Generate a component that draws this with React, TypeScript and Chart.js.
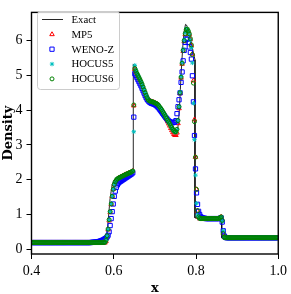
import React, { useEffect, useRef } from 'react';
import { Chart, registerables } from 'chart.js';

Chart.register(...registerables);

// uniform grid of cell centres (dx = 1/400), shown from x = 0.40125
const GRID_START = 0.40125;
const GRID_DX = 0.0025;

const xTicks = [0.4, 0.6, 0.8, 1.0];
const yTicks = [0, 1, 2, 3, 4, 5, 6];

const seriesNames = ['Exact', 'MP5', 'WENO-Z', 'HOCUS5', 'HOCUS6'];

const exactX = [0.4, 0.575, 0.58, 0.583, 0.587, 0.591, 0.596, 0.6, 0.606, 0.62, 0.635, 0.6475, 0.6475, 0.655, 0.667, 0.678, 0.688, 0.7, 0.71, 0.72, 0.73, 0.74, 0.748, 0.752, 0.756, 0.759, 0.762, 0.765, 0.768, 0.771, 0.7745, 0.777, 0.781, 0.786, 0.791, 0.7975, 0.7975, 0.805, 0.8625, 0.8625, 1.0];
const exactY = [0.19, 0.19, 0.21, 0.35, 0.9, 1.45, 1.85, 1.98, 2.05, 2.12, 2.18, 2.25, 5.32, 5.05, 4.75, 4.42, 4.3, 4.2, 4.1, 3.95, 3.75, 3.55, 3.4, 3.36, 3.5, 3.9, 4.6, 5.3, 5.85, 6.25, 6.47, 6.45, 6.32, 6.1, 5.8, 5.45, 0.9, 0.88, 0.87, 0.33, 0.33];

const mp5 = [
  0.19, 0.19, 0.19, 0.19, 0.19, 0.19, 0.19, 0.19, 0.19, 0.19, 0.19, 0.19, 0.19, 0.19, 0.19, 0.19, 0.19, 0.19, 0.19, 0.19,
  0.19, 0.19, 0.19, 0.19, 0.19, 0.19, 0.19, 0.19, 0.19, 0.19, 0.19, 0.19, 0.19, 0.19, 0.19, 0.19, 0.19, 0.19, 0.19, 0.19,
  0.19, 0.19, 0.19, 0.19, 0.19, 0.19, 0.19, 0.19, 0.19, 0.19, 0.19, 0.19, 0.19, 0.19, 0.19, 0.19, 0.19, 0.19, 0.19, 0.19,
  0.19, 0.19, 0.19, 0.19, 0.19, 0.19, 0.19, 0.19, 0.19, 0.19, 0.19, 0.185, 0.23, 0.36, 0.56, 0.82, 1.06, 1.29, 1.52, 1.73,
  1.88, 1.96, 2.0, 2.02, 2.04, 2.06, 2.07, 2.09, 2.1, 2.12, 2.13, 2.15, 2.16, 2.17, 2.19, 2.2, 2.21, 2.23, 2.25, 4.13,
  5.18, 5.12, 5.06, 5.0, 4.94, 4.88, 4.81, 4.74, 4.66, 4.58, 4.5, 4.42, 4.35, 4.3, 4.27, 4.26, 4.25, 4.24, 4.23, 4.22,
  4.2, 4.19, 4.17, 4.14, 4.1, 4.06, 4.01, 3.96, 3.91, 3.85, 3.79, 3.73, 3.67, 3.61, 3.55, 3.48, 3.42, 3.36, 3.31, 3.28,
  3.28, 3.35, 3.62, 4.05, 4.48, 4.93, 5.33, 5.7, 5.98, 6.18, 6.3, 6.3, 6.26, 6.18, 6.04, 5.86, 5.62, 4.85, 3.73, 2.65,
  1.72, 1.1, 0.92, 0.88, 0.88, 0.88, 0.88, 0.88, 0.88, 0.88, 0.88, 0.88, 0.88, 0.88, 0.88, 0.88, 0.88, 0.88, 0.88, 0.88,
  0.88, 0.88, 0.89, 0.91, 0.93, 0.83, 0.45, 0.35, 0.33, 0.33, 0.33, 0.33, 0.33, 0.33, 0.33, 0.33, 0.33, 0.33, 0.33, 0.33,
  0.33, 0.33, 0.33, 0.33, 0.33, 0.33, 0.33, 0.33, 0.33, 0.33, 0.33, 0.33, 0.33, 0.33, 0.33, 0.33, 0.33, 0.33, 0.33, 0.33,
  0.33, 0.33, 0.33, 0.33, 0.33, 0.33, 0.33, 0.33, 0.33, 0.33, 0.33, 0.33, 0.33, 0.33, 0.33, 0.33, 0.33, 0.33, 0.33, 0.33,
];

const wenoZ = [
  0.19, 0.19, 0.19, 0.19, 0.19, 0.19, 0.19, 0.19, 0.19, 0.19, 0.19, 0.19, 0.19, 0.19, 0.19, 0.19, 0.19, 0.19, 0.19, 0.19,
  0.19, 0.19, 0.19, 0.19, 0.19, 0.19, 0.19, 0.19, 0.19, 0.19, 0.19, 0.19, 0.19, 0.19, 0.19, 0.19, 0.19, 0.19, 0.19, 0.19,
  0.19, 0.19, 0.19, 0.19, 0.19, 0.19, 0.19, 0.19, 0.19, 0.19, 0.19, 0.19, 0.19, 0.19, 0.19, 0.19, 0.19, 0.19, 0.195, 0.2,
  0.2, 0.2, 0.205, 0.21, 0.215, 0.22, 0.23, 0.24, 0.25, 0.265, 0.28, 0.3, 0.32, 0.35, 0.4, 0.5, 0.68, 0.88, 1.08, 1.3,
  1.52, 1.67, 1.78, 1.85, 1.9, 1.93, 1.95, 1.97, 1.99, 2.01, 2.03, 2.05, 2.07, 2.09, 2.11, 2.13, 2.15, 2.17, 2.2, 3.8,
  5.05, 5.0, 4.94, 4.88, 4.82, 4.76, 4.7, 4.63, 4.56, 4.49, 4.42, 4.36, 4.31, 4.27, 4.24, 4.22, 4.2, 4.19, 4.18, 4.17,
  4.15, 4.13, 4.1, 4.07, 4.03, 3.99, 3.95, 3.91, 3.87, 3.83, 3.79, 3.76, 3.72, 3.69, 3.67, 3.65, 3.64, 3.64, 3.65, 3.66,
  3.7, 3.9, 4.1, 4.3, 4.5, 4.8, 5.1, 5.42, 5.72, 5.95, 6.05, 6.04, 5.95, 5.82, 5.66, 5.47, 4.99, 4.24, 3.27, 2.31,
  1.62, 1.29, 1.09, 1.0, 0.94, 0.91, 0.9, 0.89, 0.89, 0.88, 0.88, 0.88, 0.88, 0.88, 0.88, 0.88, 0.88, 0.88, 0.88, 0.88,
  0.88, 0.88, 0.88, 0.89, 0.9, 0.78, 0.53, 0.38, 0.34, 0.33, 0.33, 0.33, 0.33, 0.33, 0.33, 0.33, 0.33, 0.33, 0.33, 0.33,
  0.33, 0.33, 0.33, 0.33, 0.33, 0.33, 0.33, 0.33, 0.33, 0.33, 0.33, 0.33, 0.33, 0.33, 0.33, 0.33, 0.33, 0.33, 0.33, 0.33,
  0.33, 0.33, 0.33, 0.33, 0.33, 0.33, 0.33, 0.33, 0.33, 0.33, 0.33, 0.33, 0.33, 0.33, 0.33, 0.33, 0.33, 0.33, 0.33, 0.33,
];

const hocus5 = [
  0.19, 0.19, 0.19, 0.19, 0.19, 0.19, 0.19, 0.19, 0.19, 0.19, 0.19, 0.19, 0.19, 0.19, 0.19, 0.19, 0.19, 0.19, 0.19, 0.19,
  0.19, 0.19, 0.19, 0.19, 0.19, 0.19, 0.19, 0.19, 0.19, 0.19, 0.19, 0.19, 0.19, 0.19, 0.19, 0.19, 0.19, 0.19, 0.19, 0.19,
  0.19, 0.19, 0.19, 0.19, 0.19, 0.19, 0.19, 0.19, 0.19, 0.19, 0.19, 0.19, 0.19, 0.19, 0.19, 0.19, 0.19, 0.19, 0.19, 0.19,
  0.19, 0.19, 0.19, 0.19, 0.19, 0.19, 0.19, 0.19, 0.19, 0.19, 0.19, 0.2, 0.25, 0.38, 0.57, 0.84, 1.08, 1.31, 1.53, 1.73,
  1.87, 1.95, 2.0, 2.02, 2.04, 2.06, 2.07, 2.09, 2.1, 2.12, 2.13, 2.15, 2.16, 2.17, 2.19, 2.2, 2.21, 2.23, 2.25, 3.38,
  5.29, 5.16, 5.08, 5.01, 4.95, 4.89, 4.82, 4.75, 4.67, 4.59, 4.51, 4.43, 4.36, 4.3, 4.27, 4.26, 4.25, 4.24, 4.23, 4.22,
  4.2, 4.19, 4.17, 4.14, 4.1, 4.06, 4.02, 3.97, 3.92, 3.87, 3.81, 3.76, 3.71, 3.66, 3.6, 3.54, 3.48, 3.43, 3.39, 3.36,
  3.37, 3.44, 3.7, 4.1, 4.52, 4.97, 5.38, 5.75, 6.03, 6.23, 6.34, 6.33, 6.27, 6.17, 6.02, 5.8, 5.36, 4.2, 3.15, 2.13,
  1.32, 0.98, 0.9, 0.88, 0.88, 0.88, 0.88, 0.88, 0.88, 0.88, 0.88, 0.88, 0.88, 0.88, 0.88, 0.88, 0.88, 0.88, 0.88, 0.88,
  0.88, 0.88, 0.89, 0.9, 0.92, 0.8, 0.53, 0.35, 0.33, 0.33, 0.33, 0.33, 0.33, 0.33, 0.33, 0.33, 0.33, 0.33, 0.33, 0.33,
  0.33, 0.33, 0.33, 0.33, 0.33, 0.33, 0.33, 0.33, 0.33, 0.33, 0.33, 0.33, 0.33, 0.33, 0.33, 0.33, 0.33, 0.33, 0.33, 0.33,
  0.33, 0.33, 0.33, 0.33, 0.33, 0.33, 0.33, 0.33, 0.33, 0.33, 0.33, 0.33, 0.33, 0.33, 0.33, 0.33, 0.33, 0.33, 0.33, 0.33,
];

const hocus6 = [
  0.19, 0.19, 0.19, 0.19, 0.19, 0.19, 0.19, 0.19, 0.19, 0.19, 0.19, 0.19, 0.19, 0.19, 0.19, 0.19, 0.19, 0.19, 0.19, 0.19,
  0.19, 0.19, 0.19, 0.19, 0.19, 0.19, 0.19, 0.19, 0.19, 0.19, 0.19, 0.19, 0.19, 0.19, 0.19, 0.19, 0.19, 0.19, 0.19, 0.19,
  0.19, 0.19, 0.19, 0.19, 0.19, 0.19, 0.19, 0.19, 0.19, 0.19, 0.19, 0.19, 0.19, 0.19, 0.19, 0.19, 0.19, 0.19, 0.19, 0.19,
  0.19, 0.19, 0.19, 0.19, 0.19, 0.19, 0.19, 0.19, 0.19, 0.19, 0.19, 0.2, 0.26, 0.39, 0.58, 0.85, 1.08, 1.3, 1.52, 1.72,
  1.86, 1.94, 1.99, 2.02, 2.04, 2.06, 2.07, 2.09, 2.1, 2.12, 2.13, 2.15, 2.16, 2.17, 2.19, 2.2, 2.21, 2.23, 2.25, 4.15,
  5.2, 5.13, 5.06, 5.0, 4.94, 4.88, 4.82, 4.75, 4.67, 4.59, 4.51, 4.43, 4.36, 4.3, 4.27, 4.26, 4.25, 4.24, 4.23, 4.22,
  4.2, 4.19, 4.17, 4.14, 4.1, 4.06, 4.02, 3.97, 3.92, 3.87, 3.81, 3.76, 3.71, 3.66, 3.61, 3.55, 3.5, 3.45, 3.41, 3.38,
  3.38, 3.45, 3.7, 4.1, 4.5, 4.95, 5.35, 5.72, 6.0, 6.2, 6.32, 6.33, 6.28, 6.2, 6.06, 5.88, 5.6, 4.78, 3.67, 2.65,
  1.72, 1.11, 0.93, 0.89, 0.88, 0.88, 0.88, 0.88, 0.88, 0.88, 0.88, 0.88, 0.88, 0.88, 0.88, 0.88, 0.88, 0.88, 0.88, 0.88,
  0.88, 0.88, 0.89, 0.91, 0.93, 0.83, 0.45, 0.34, 0.33, 0.33, 0.33, 0.33, 0.33, 0.33, 0.33, 0.33, 0.33, 0.33, 0.33, 0.33,
  0.33, 0.33, 0.33, 0.33, 0.33, 0.33, 0.33, 0.33, 0.33, 0.33, 0.33, 0.33, 0.33, 0.33, 0.33, 0.33, 0.33, 0.33, 0.33, 0.33,
  0.33, 0.33, 0.33, 0.33, 0.33, 0.33, 0.33, 0.33, 0.33, 0.33, 0.33, 0.33, 0.33, 0.33, 0.33, 0.33, 0.33, 0.33, 0.33, 0.33,
];

const COLORS = ['rgba(0,0,0,0.85)', '#ff0000', '#0000ff', '#00bfbf', '#008000'];
const STYLES = ['line', 'triangle', 'rect', 'star', 'circle'];
const RADII = [0, 2.6, 3.0, 2.2, 2.0];

const toPts = (ys: number[]) => ys.map((y, i) => ({ x: GRID_START + i * GRID_DX, y }));

function drawMarker(ctx: CanvasRenderingContext2D, style: string, x: number, y: number, r: number, color: string) {
  ctx.save();
  ctx.strokeStyle = color;
  ctx.lineWidth = 1;
  ctx.beginPath();
  if (style === 'triangle') {
    const s = Math.sin(Math.PI / 3) * r;
    ctx.moveTo(x, y - r);
    ctx.lineTo(x + s, y + r / 2);
    ctx.lineTo(x - s, y + r / 2);
    ctx.closePath();
  } else if (style === 'rect') {
    const h = r * Math.SQRT1_2;
    ctx.rect(x - h, y - h, 2 * h, 2 * h);
  } else if (style === 'star') {
    ctx.moveTo(x - r, y); ctx.lineTo(x + r, y);
    ctx.moveTo(x, y - r); ctx.lineTo(x, y + r);
    const d = r * Math.SQRT1_2;
    ctx.moveTo(x - d, y - d); ctx.lineTo(x + d, y + d);
    ctx.moveTo(x - d, y + d); ctx.lineTo(x + d, y - d);
  } else {
    ctx.arc(x, y, r, 0, Math.PI * 2);
  }
  ctx.stroke();
  ctx.restore();
}

const framePlugin = {
  id: 'mplFrameLegend',
  afterDraw(chart: any) {
    const { ctx, chartArea } = chart;
    ctx.save();
    ctx.strokeStyle = '#000';
    ctx.lineWidth = 1.4;
    ctx.strokeRect(chartArea.left, chartArea.top, chartArea.right - chartArea.left, chartArea.bottom - chartArea.top);

    // legend
    ctx.beginPath();
    (ctx as any).roundRect(37.5, 11.5, 82, 78, 3);
    ctx.fillStyle = 'rgba(255,255,255,0.8)';
    ctx.fill();
    ctx.strokeStyle = '#cccccc';
    ctx.lineWidth = 1;
    ctx.stroke();
    seriesNames.forEach((name, k) => {
      const y = 19.5 + k * 14.85;
      if (k === 0) {
        ctx.beginPath();
        ctx.strokeStyle = COLORS[0];
        ctx.lineWidth = 1;
        ctx.moveTo(42, y);
        ctx.lineTo(63, y);
        ctx.stroke();
      } else {
        drawMarker(ctx, STYLES[k], 52, y, RADII[k], COLORS[k]);
      }
      ctx.fillStyle = '#000';
      ctx.font = '10.8px "Liberation Serif"';
      ctx.textBaseline = 'middle';
      ctx.textAlign = 'left';
      ctx.fillText(name, 71.5, y + 0.5);
    });
    ctx.restore();
  },
};

export default function App() {
  const ref = useRef<HTMLCanvasElement | null>(null);
  useEffect(() => {
    if (!ref.current) return;
    const tickFont = { family: '"Liberation Serif"', size: 14 };
    const titleFont = { family: '"DejaVu Serif"', size: 13, weight: 'bold' as const };
    const series = [mp5, wenoZ, hocus5, hocus6];
    const datasets: any[] = [
      {
        label: seriesNames[0],
        data: exactX.map((x, i) => ({ x, y: exactY[i] })),
        showLine: true,
        borderColor: COLORS[0],
        borderWidth: 1,
        pointRadius: 0,
        order: 4,
      },
      ...series.map((ys, k) => ({
        label: seriesNames[k + 1],
        data: toPts(ys),
        showLine: false,
        pointStyle: STYLES[k + 1],
        pointRadius: RADII[k + 1],
        pointBorderWidth: 1,
        pointBorderColor: COLORS[k + 1],
        pointBackgroundColor: 'rgba(0,0,0,0)',
        borderColor: COLORS[k + 1],
        order: 3 - k,
      })),
    ];
    const chart = new Chart(ref.current, {
      type: 'scatter',
      data: { datasets },
      plugins: [framePlugin],
      options: {
        animation: false,
        responsive: false,
        maintainAspectRatio: false,
        layout: { padding: { left: 0, top: 4.5, right: 8.5, bottom: 0 } },
        plugins: { legend: { display: false }, tooltip: { enabled: false } },
        scales: {
          x: {
            type: 'linear',
            min: 0.4,
            max: 1.0,
            afterBuildTicks: (s: any) => { s.ticks = xTicks.map((v) => ({ value: v })); },
            afterFit: (s: any) => { s.height = 40; },
            ticks: { font: tickFont, color: '#000', padding: 4, maxRotation: 0, callback: (v: any) => Number(v).toFixed(1) },
            grid: { drawOnChartArea: false, drawTicks: true, tickLength: 5, tickColor: '#000', tickWidth: 1 },
            border: { display: false },
            title: { display: true, text: 'x', font: titleFont, color: '#000', padding: { top: 0, bottom: -2 } },
          },
          y: {
            type: 'linear',
            min: -0.139,
            max: 6.814,
            afterBuildTicks: (s: any) => { s.ticks = yTicks.map((v) => ({ value: v })); },
            afterFit: (s: any) => { s.width = 31.5; },
            ticks: { font: tickFont, color: '#000', padding: 4, callback: (v: any) => String(v) },
            grid: { drawOnChartArea: false, drawTicks: true, tickLength: 5, tickColor: '#000', tickWidth: 1 },
            border: { display: false },
            title: { display: true, text: 'Density', font: titleFont, color: '#000', padding: { top: 1, bottom: 0 } },
          },
        },
      } as any,
    });
    return () => chart.destroy();
  }, []);
  return (
    <div style={{ position: 'fixed', left: 0, top: 0, width: 291, height: 294, background: '#fff' }}>
      <canvas ref={ref} width={291} height={294} />
    </div>
  );
}
